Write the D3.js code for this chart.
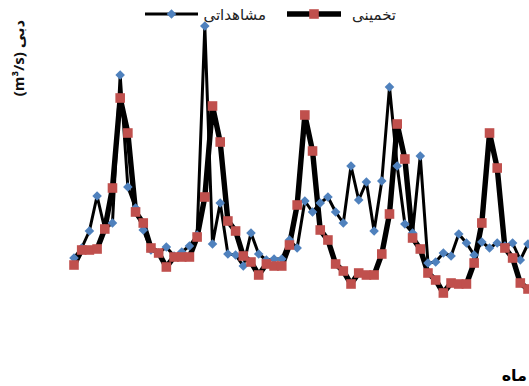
<!DOCTYPE html>
<html>
<head>
<meta charset="utf-8">
<script src="https://cdn.jsdelivr.net/npm/d3@7"></script>
<style>
  html, body { margin: 0; padding: 0; background: #fff; }
  svg { display: block; }
  text { font-family: "Open Sans", "DejaVu Sans", sans-serif; }
</style>
</head>
<body>
<svg id="chart" width="529" height="386"></svg>
<script>
// Monthly discharge (m3/s): observed vs. estimated
const months = d3.range(1, 61);
const observed = [
  20.5, 23, 27.25, 36, 27.75, 29.25, 66.25, 38.25, 33, 27.5,
  22.5, 21.75, 23.25, 21, 22, 23.5, 26.25, 78.5, 24, 34.25,
  21.5, 21.25, 18.5, 26.75, 21.5, 20, 20.25, 20.25, 25, 23,
  34.75, 32, 34.25, 35.75, 32, 29.25, 43.5, 35, 39.5, 27.25,
  39.75, 63.25, 43.5, 29, 26.75, 46, 19.25, 19.5, 21.75, 21,
  26.5, 24.25, 21.25, 24.5, 23, 24.25, 23.5, 24.25, 20, 24
];
const estimated = [
  18.75, 22.5, 22.5, 22.75, 27.75, 38, 60.5, 51.75, 32, 29.25,
  23, 21.75, 18.25, 20.75, 20.75, 20.75, 25.75, 35.75, 58.5, 49.5,
  29.75, 27.25, 21, 19.5, 16.25, 19, 18.5, 18.5, 23.75, 33.75,
  56.25, 47.25, 27.5, 25, 19, 17.25, 14, 16.75, 16.25, 16.25,
  21.5, 31.5, 54, 45.25, 25.5, 22.75, 16.75, 15, 11.75, 14.25,
  14, 14, 19.25, 29.25, 51.75, 43, 23, 20.5, 14.25, 12.75
];
const seriesNames = ["مشاهداتی", "تخمینی"];
const yTitle = "دبی";
const yUnit = "(m³/s)";
const xTitle = "ماه";

const svg = d3.select("#chart");

const x = d3.scaleLinear().domain([1, 60]).range([74, 528]);
const y = d3.scaleLinear().domain([0, 80]).range([340, 20]);

const BLUE = "#4F81BD";
const RED = "#C0504D";
const THIN = 3;
const THICK = 5.4;

const line = d3.line()
  .x((d, i) => x(months[i]))
  .y(d => y(d));

const plot = svg.append("g");

// observed series: thin line with diamond markers
plot.append("path")
  .datum(observed)
  .attr("d", line)
  .attr("fill", "none")
  .attr("stroke", "#000")
  .attr("stroke-width", THIN)
  .attr("stroke-linejoin", "round");

// estimated series: heavy line with square markers
plot.append("path")
  .datum(estimated)
  .attr("d", line)
  .attr("fill", "none")
  .attr("stroke", "#000")
  .attr("stroke-width", THICK)
  .attr("stroke-linejoin", "round");

const diamond = d3.symbol().type(d3.symbolSquare).size(46);
const square = d3.symbol().type(d3.symbolSquare).size(92);

plot.append("g").selectAll("path")
  .data(observed)
  .join("path")
  .attr("d", diamond)
  .attr("transform", (d, i) => `translate(${x(months[i])},${y(d)}) rotate(45)`)
  .attr("fill", BLUE);

plot.append("g").selectAll("path")
  .data(estimated)
  .join("path")
  .attr("d", square)
  .attr("transform", (d, i) => `translate(${x(months[i])},${y(d)})`)
  .attr("fill", RED);

// legend
const legend = svg.append("g").attr("transform", "translate(0,14)");
const legendItems = [
  { name: seriesNames[0], x0: 145, x1: 198, sym: diamond, rot: 45, color: BLUE, w: THIN, tx: 266 },
  { name: seriesNames[1], x0: 287, x1: 341, sym: square, rot: 0, color: RED, w: THICK, tx: 396 }
];
legendItems.forEach(it => {
  legend.append("line")
    .attr("x1", it.x0).attr("x2", it.x1)
    .attr("y1", 0).attr("y2", 0)
    .attr("stroke", "#000").attr("stroke-width", it.w);
  legend.append("path")
    .attr("d", it.sym)
    .attr("transform", `translate(${(it.x0 + it.x1) / 2},0) rotate(${it.rot})`)
    .attr("fill", it.color);
  legend.append("text")
    .attr("x", it.tx).attr("y", 6)
    .attr("direction", "rtl")
    .attr("text-anchor", "start")
    .attr("font-size", 15)
    .attr("fill", "#222")
    .text(it.name);
});

// axis titles
svg.append("text")
  .attr("transform", "translate(24,58) rotate(-90)")
  .attr("text-anchor", "middle")
  .attr("font-size", 15)
  .attr("font-weight", "bold")
  .attr("fill", "#111")
  .attr("direction", "rtl")
  .text(`${yTitle} ${yUnit}`);

svg.append("text")
  .attr("x", 527).attr("y", 381)
  .attr("text-anchor", "end")
  .attr("font-size", 16)
  .attr("font-weight", "bold")
  .attr("fill", "#000")
  .text(xTitle);
</script>
</body>
</html>
